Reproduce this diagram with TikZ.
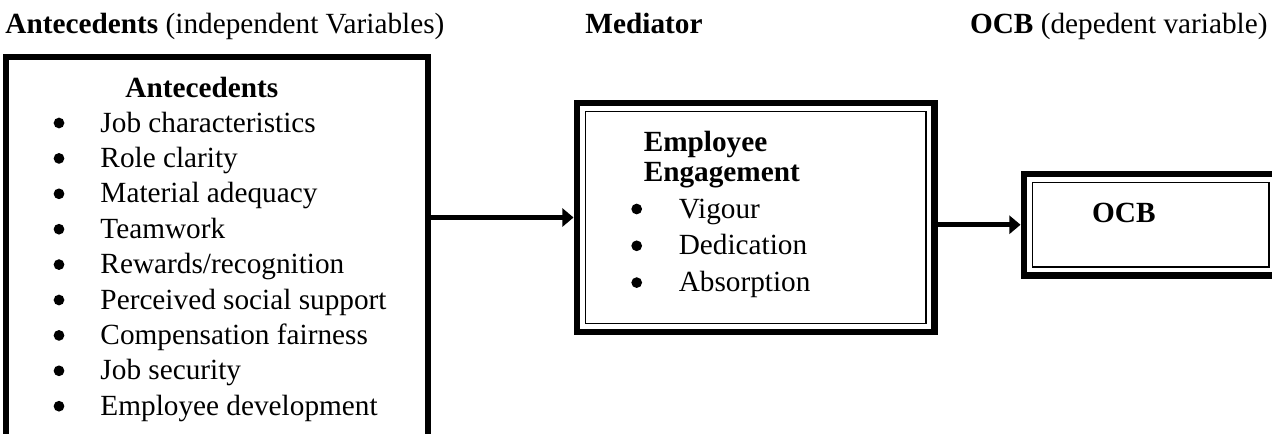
\documentclass[tikz,border=0pt]{standalone}
\usepackage{fontspec}
\setmainfont{Liberation Serif}
\usepackage{tikz}
\usetikzlibrary{arrows.meta, positioning}

\begin{document}
\begin{tikzpicture}[
  x=0.41pt, y=-0.41pt,
  txt/.style={font=\fontsize{12}{14.5}\selectfont, inner sep=0pt, anchor=base west},
  dot/.style={circle, fill, inner sep=0pt, minimum size=4.4pt},
  plainbox/.style={draw, line width=2.4pt, inner sep=0pt},
  framebox/.style={draw, line width=2.8pt, inner sep=0pt},
  innerframe/.style={line width=0.6pt},
  flow/.style={line width=2.2pt, -{Triangle[length=4.6pt, width=7.4pt]}}
]
  \useasboundingbox (0,0) rectangle (1272,433);

  % column titles
  \node[txt] (titleAnte) at (5, 33) {\textbf{Antecedents} (independent Variables)};
  \node[txt] (titleMed) at (585, 33) {\textbf{Mediator}};
  \node[txt, anchor=base east] (titleOcb) at (1268, 33) {\textbf{OCB} (depedent variable)};

  % boxes
  \node[plainbox, minimum width=172.9pt, minimum height=157pt] (ante) at (217, 248.5) {};
  \node[framebox, minimum width=146.6pt, minimum height=93.9pt] (med) at (755.75, 217.5) {};
  \node[framebox, minimum width=104pt, minimum height=41.6pt] (ocb) at (1150.8, 224.75) {};
  \draw[innerframe] ([shift={(4.9pt,-4.9pt)}]med.north west) rectangle ([shift={(-4.9pt,4.9pt)}]med.south east);
  \draw[innerframe] ([shift={(4.9pt,-4.9pt)}]ocb.north west) rectangle ([shift={(-4.9pt,4.9pt)}]ocb.south east);

  % antecedents list
  \node[txt] (anteHead) at (125, 97) {\textbf{Antecedents}};
  \foreach \lbl [count=\i] in {Job characteristics, Role clarity, Material adequacy, Teamwork,
      Rewards/recognition, Perceived social support, Compensation fairness, Job security,
      Employee development} {
    \node[dot] (anteDot\i) at (59, {123+(\i-1)*35.4}) {};
    \node[txt] (anteItem\i) at (100, {132+(\i-1)*35.4}) {\lbl};
  }

  % mediator list
  \node[txt] (medHead1) at (643.3, 151.7) {\textbf{Employee}};
  \node[txt] (medHead2) at (643.3, 181.7) {\textbf{Engagement}};
  \foreach \lbl [count=\i] in {Vigour, Dedication, Absorption} {
    \node[dot] (medDot\i) at (636.7, {209+(\i-1)*36.8}) {};
    \node[txt] (medItem\i) at (678.3, {218+(\i-1)*36.8}) {\lbl};
  }

  \node[txt] (ocbHead) at (1091.7, 222.7) {\textbf{OCB}};

  % arrows
  \draw[flow] (ante.east |- med.west) -- (med.west);
  \draw[flow] (med.east |- ocb.west) -- (ocb.west);
\end{tikzpicture}
\end{document}
